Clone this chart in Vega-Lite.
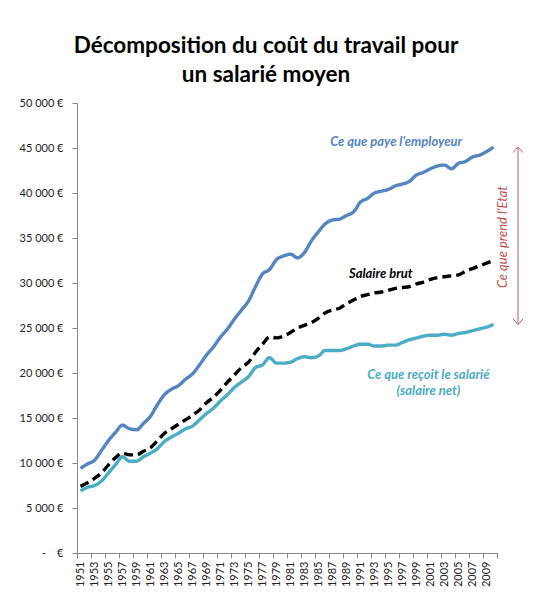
{
  "$schema": "https://vega.github.io/schema/vega-lite/v6.json",
  "width": 420,
  "height": 450,
  "autosize": "none",
  "padding": {"left": 77, "top": 103, "right": 43, "bottom": 57},
  "background": "white",
  "title": {
    "text": ["Décomposition du coût du travail pour", "un salarié moyen"],
    "font": "Lato",
    "fontSize": 22.5,
    "fontWeight": "bold",
    "color": "#000000",
    "lineHeight": 29,
    "anchor": "middle",
    "dx": -21,
    "offset": 11
  },
  "datasets": {
    "cout": [
      {"year": 1951, "employeur": 9400, "brut": 7400, "net": 6900},
      {"year": 1952, "employeur": 9900, "brut": 7800, "net": 7300},
      {"year": 1953, "employeur": 10300, "brut": 8300, "net": 7500},
      {"year": 1954, "employeur": 11400, "brut": 8900, "net": 8000},
      {"year": 1955, "employeur": 12500, "brut": 9800, "net": 8900},
      {"year": 1956, "employeur": 13400, "brut": 10600, "net": 9800},
      {"year": 1957, "employeur": 14200, "brut": 11100, "net": 10700},
      {"year": 1958, "employeur": 13800, "brut": 10900, "net": 10200},
      {"year": 1959, "employeur": 13700, "brut": 10900, "net": 10200},
      {"year": 1960, "employeur": 14400, "brut": 11300, "net": 10700},
      {"year": 1961, "employeur": 15200, "brut": 11700, "net": 11100},
      {"year": 1962, "employeur": 16500, "brut": 12500, "net": 11600},
      {"year": 1963, "employeur": 17600, "brut": 13300, "net": 12400},
      {"year": 1964, "employeur": 18200, "brut": 13800, "net": 12900},
      {"year": 1965, "employeur": 18600, "brut": 14300, "net": 13300},
      {"year": 1966, "employeur": 19300, "brut": 14800, "net": 13800},
      {"year": 1967, "employeur": 19900, "brut": 15300, "net": 14100},
      {"year": 1968, "employeur": 20900, "brut": 15900, "net": 14800},
      {"year": 1969, "employeur": 22000, "brut": 16700, "net": 15500},
      {"year": 1970, "employeur": 22900, "brut": 17300, "net": 16100},
      {"year": 1971, "employeur": 24000, "brut": 18100, "net": 16900},
      {"year": 1972, "employeur": 24900, "brut": 19000, "net": 17600},
      {"year": 1973, "employeur": 26000, "brut": 19800, "net": 18400},
      {"year": 1974, "employeur": 27000, "brut": 20600, "net": 19000},
      {"year": 1975, "employeur": 28000, "brut": 21200, "net": 19600},
      {"year": 1976, "employeur": 29600, "brut": 22300, "net": 20600},
      {"year": 1977, "employeur": 31000, "brut": 23200, "net": 20900},
      {"year": 1978, "employeur": 31500, "brut": 24000, "net": 21700},
      {"year": 1979, "employeur": 32600, "brut": 23900, "net": 21100},
      {"year": 1980, "employeur": 33000, "brut": 24100, "net": 21100},
      {"year": 1981, "employeur": 33200, "brut": 24500, "net": 21200},
      {"year": 1982, "employeur": 32800, "brut": 25000, "net": 21600},
      {"year": 1983, "employeur": 33400, "brut": 25300, "net": 21800},
      {"year": 1984, "employeur": 34700, "brut": 25600, "net": 21700},
      {"year": 1985, "employeur": 35700, "brut": 26100, "net": 21900},
      {"year": 1986, "employeur": 36600, "brut": 26700, "net": 22500},
      {"year": 1987, "employeur": 37000, "brut": 27000, "net": 22500},
      {"year": 1988, "employeur": 37100, "brut": 27200, "net": 22500},
      {"year": 1989, "employeur": 37500, "brut": 27700, "net": 22700},
      {"year": 1990, "employeur": 37900, "brut": 28100, "net": 23000},
      {"year": 1991, "employeur": 39000, "brut": 28500, "net": 23200},
      {"year": 1992, "employeur": 39400, "brut": 28700, "net": 23200},
      {"year": 1993, "employeur": 40000, "brut": 28900, "net": 23000},
      {"year": 1994, "employeur": 40200, "brut": 29000, "net": 23000},
      {"year": 1995, "employeur": 40400, "brut": 29200, "net": 23100},
      {"year": 1996, "employeur": 40800, "brut": 29400, "net": 23100},
      {"year": 1997, "employeur": 41000, "brut": 29500, "net": 23400},
      {"year": 1998, "employeur": 41300, "brut": 29600, "net": 23700},
      {"year": 1999, "employeur": 42000, "brut": 29900, "net": 23900},
      {"year": 2000, "employeur": 42300, "brut": 30100, "net": 24100},
      {"year": 2001, "employeur": 42700, "brut": 30400, "net": 24200},
      {"year": 2002, "employeur": 43000, "brut": 30600, "net": 24200},
      {"year": 2003, "employeur": 43100, "brut": 30700, "net": 24300},
      {"year": 2004, "employeur": 42700, "brut": 30800, "net": 24200},
      {"year": 2005, "employeur": 43300, "brut": 30900, "net": 24400},
      {"year": 2006, "employeur": 43500, "brut": 31300, "net": 24500},
      {"year": 2007, "employeur": 44000, "brut": 31600, "net": 24700},
      {"year": 2008, "employeur": 44200, "brut": 31900, "net": 24900},
      {"year": 2009, "employeur": 44600, "brut": 32200, "net": 25100},
      {"year": 2010, "employeur": 45100, "brut": 32500, "net": 25400}
    ],
    "notes": [
      {"year": 1996.1, "value": 45670, "label": "Ce que paye l'employeur", "series": "employeur"},
      {"year": 1993.9, "value": 31000, "label": "Salaire brut", "series": "brut"},
      {"year": 2000.7, "value": 19830, "label": "Ce que reçoit le salarié\n(salaire net)", "series": "net"}
    ],
    "etat": [
      {"year": 2013.5, "value": 25400, "high": 45100}
    ],
    "heads": [
      {"year": 2013.5, "value": 45100, "head": "haut"},
      {"year": 2013.5, "value": 25400, "head": "bas"}
    ],
    "etatLabel": [
      {"year": 2011.3, "value": 35100, "label": "Ce que prend l'Etat"}
    ]
  },
  "encoding": {
    "x": {
      "field": "year",
      "type": "quantitative",
      "scale": {"domain": [1950.5, 2010.5], "nice": false, "zero": false},
      "axis": {
        "title": null,
        "values": [1950.5, 1952.5, 1954.5, 1956.5, 1958.5, 1960.5, 1962.5, 1964.5, 1966.5, 1968.5, 1970.5, 1972.5, 1974.5, 1976.5, 1978.5, 1980.5, 1982.5, 1984.5, 1986.5, 1988.5, 1990.5, 1992.5, 1994.5, 1996.5, 1998.5, 2000.5, 2002.5, 2004.5, 2006.5, 2008.5, 2010.5],
        "labelExpr": "datum.value > 2010 ? '' : '' + (datum.value + 0.5)",
        "labelOffset": 3.5,
        "labelAngle": 270,
        "labelFont": "Lato",
        "labelFontSize": 11,
        "labelColor": "#222222",
        "labelPadding": 3,
        "labelOverlap": false,
        "labelFlush": false,
        "tickSize": 5,
        "tickColor": "#868686",
        "domainColor": "#868686",
        "grid": false
      }
    },
    "y": {
      "field": "value",
      "type": "quantitative",
      "scale": {"domain": [0, 50000], "nice": false},
      "axis": {
        "title": null,
        "values": [0, 5000, 10000, 15000, 20000, 25000, 30000, 35000, 40000, 45000, 50000],
        "labelExpr": "datum.value == 0 ? '-\u00a0\u00a0\u00a0\u00a0€' : replace(format(datum.value, ','), ',', ' ') + ' €'",
        "labelFont": "Lato",
        "labelFontSize": 11,
        "labelColor": "#222222",
        "labelPadding": 9,
        "tickSize": 5,
        "tickColor": "#868686",
        "domainColor": "#868686",
        "grid": false
      }
    }
  },
  "layer": [
    {
      "data": {"name": "cout"},
      "transform": [
        {"fold": ["employeur", "brut", "net"], "as": ["series", "value"]}
      ],
      "mark": {"type": "line", "interpolate": "monotone", "strokeWidth": 3.4},
      "encoding": {
        "color": {
          "field": "series",
          "type": "nominal",
          "scale": {"domain": ["employeur", "brut", "net"], "range": ["#5485C0", "#000000", "#4BACC6"]},
          "legend": null
        },
        "strokeDash": {
          "field": "series",
          "type": "nominal",
          "scale": {"domain": ["employeur", "brut", "net"], "range": [[1, 0], [9, 5], [1, 0]]},
          "legend": null
        }
      }
    },
    {
      "data": {"name": "notes"},
      "mark": {
        "type": "text",
        "font": "Lato",
        "fontSize": 13,
        "fontWeight": "bold",
        "fontStyle": "italic",
        "align": "center",
        "baseline": "middle",
        "lineBreak": "\n",
        "lineHeight": 16
      },
      "encoding": {
        "text": {"field": "label"},
        "color": {
          "field": "series",
          "type": "nominal",
          "scale": {"domain": ["employeur", "brut", "net"], "range": ["#3A6EA5", "#000000", "#3E9DB5"]},
          "legend": null
        }
      }
    },
    {
      "data": {"name": "etat"},
      "mark": {"type": "rule", "color": "#C9585A", "strokeWidth": 1},
      "encoding": {
        "y2": {"field": "high"}
      }
    },
    {
      "data": {"name": "heads"},
      "mark": {"type": "point", "filled": false, "color": "#C9585A", "strokeWidth": 1, "size": 100, "opacity": 1},
      "encoding": {
        "shape": {
          "field": "head",
          "type": "nominal",
          "scale": {"domain": ["haut", "bas"], "range": ["M -1 1.1 L 0 0 L 1 1.1", "M -1 -1.1 L 0 0 L 1 -1.1"]},
          "legend": null
        }
      }
    },
    {
      "data": {"name": "etatLabel"},
      "mark": {"type": "text", "font": "Lato", "fontSize": 13, "fontStyle": "italic", "angle": 270, "align": "center", "baseline": "middle", "color": "#C0504D"},
      "encoding": {
        "text": {"field": "label"}
      }
    }
  ],
  "config": {
    "view": {"stroke": null}
  }
}
